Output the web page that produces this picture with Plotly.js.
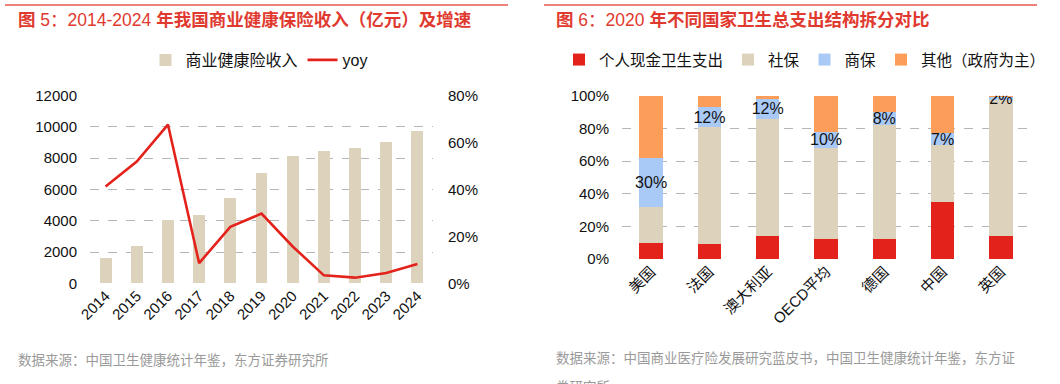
<!DOCTYPE html>
<html>
<head>
<meta charset="utf-8">
<script src="https://cdn.plot.ly/plotly-3.0.1.min.js"></script>
<style>html,body{margin:0;padding:0;background:#fff;}#chart{width:1060px;height:384px;}</style>
</head>
<body>
<div id="chart"></div>
<script>
// ---- Data: Figure 5 ----
const years = ['2014','2015','2016','2017','2018','2019','2020','2021','2022','2023','2024'];
const healthIncome = [1587, 2410, 4042, 4389, 5448, 7066, 8173, 8447, 8653, 9035, 9773];
const yoy = [41.3, 51.9, 67.7, 8.6, 24.1, 29.7, 15.7, 3.4, 2.4, 4.4, 8.2];

// ---- Data: Figure 6 ----
const countries = ['美国','法国','澳大利亚','OECD平均','德国','中国','英国'];
const outOfPocket = [10, 9, 14, 12, 12, 35, 14];
const socialIns = [22, 72, 72, 56, 70, 35, 83.5];
const commercialIns = [30, 12, 12, 10, 8, 7, 2];
const otherGov = [38, 7, 2, 22, 10, 23, 0.5];

const W = 1060, H = 384;
const px = x => x / W;
const py = y => 1 - y / H;
const FONT = 'Liberation Sans, Arial, "Noto Sans CJK SC", sans-serif';
const RED = '#e03a30';

const labelY = countries.map((c, i) => outOfPocket[i] + socialIns[i] + commercialIns[i] / 2 - 1);
const labelText = commercialIns.map(v => v + '%');

const traces = [
  {type: 'bar', x: years, y: healthIncome, name: '商业健康险收入', marker: {color: '#ddd3bd'},
   width: 0.38, xaxis: 'x', yaxis: 'y', legend: 'legend', hoverinfo: 'none'},
  {type: 'scatter', mode: 'lines', x: years, y: yoy, name: 'yoy', line: {color: '#e3231b', width: 2.6},
   xaxis: 'x', yaxis: 'y2', legend: 'legend', hoverinfo: 'none'},
  {type: 'bar', x: countries, y: outOfPocket, name: '个人现金卫生支出', marker: {color: '#e3231b'},
   width: 0.4, xaxis: 'x2', yaxis: 'y3', legend: 'legend2', hoverinfo: 'none'},
  {type: 'bar', x: countries, y: socialIns, name: '社保', marker: {color: '#ddd3bd'},
   width: 0.4, xaxis: 'x2', yaxis: 'y3', legend: 'legend2', hoverinfo: 'none'},
  {type: 'bar', x: countries, y: commercialIns, name: '商保', marker: {color: '#a9c9f7'},
   width: 0.4, xaxis: 'x2', yaxis: 'y3', legend: 'legend2', hoverinfo: 'none'},
  {type: 'bar', x: countries, y: otherGov, name: '其他（政府为主）', marker: {color: '#fc9e5a'},
   width: 0.4, xaxis: 'x2', yaxis: 'y3', legend: 'legend2', hoverinfo: 'none'},
  {type: 'scatter', mode: 'text', x: countries, y: labelY, text: labelText,
   textfont: {family: FONT, size: 16, color: '#111'}, textposition: 'middle center',
   xaxis: 'x2', yaxis: 'y3', showlegend: false, hoverinfo: 'none'}
];

const gridStyle = {showgrid: true, gridcolor: '#b5b5b5', griddash: 'dash', gridwidth: 1, zeroline: false, showline: false, ticks: ''};

const layout = {
  width: W, height: H,
  margin: {l: 0, r: 0, t: 0, b: 0},
  paper_bgcolor: '#fff', plot_bgcolor: '#fff',
  font: {family: FONT, size: 15, color: '#111'},
  barmode: 'stack',
  showlegend: true,
  xaxis: {domain: [px(90), px(433)], anchor: 'y', type: 'category', showgrid: false, zeroline: false,
          showline: false, ticks: '', tickangle: -45, tickfont: {size: 15}},
  yaxis: Object.assign({domain: [py(283.3), py(95.7)], anchor: 'x', range: [0, 12000], dtick: 2000,
          tickformat: 'd', tickfont: {size: 15}, ticklabelstandoff: 12}, gridStyle),
  yaxis2: {overlaying: 'y', side: 'right', anchor: 'x', range: [0, 80], dtick: 20, ticksuffix: '%',
           showgrid: false, zeroline: false, showline: false, ticks: '', tickfont: {size: 15}, ticklabelstandoff: 14},
  xaxis2: {domain: [px(622), px(1030)], anchor: 'y3', type: 'category', showgrid: false, zeroline: false,
           showline: false, ticks: '', tickangle: -45, tickfont: {size: 15}},
  yaxis3: Object.assign({domain: [py(259), py(95.7)], anchor: 'x2', range: [0, 100], dtick: 20, ticksuffix: '%',
           tickfont: {size: 15}, ticklabelstandoff: 12}, gridStyle),
  legend: {orientation: 'h', x: px(259), xanchor: 'center', y: py(60), yanchor: 'middle',
           font: {size: 16}, traceorder: 'normal', bgcolor: 'rgba(0,0,0,0)'},
  legend2: {orientation: 'h', x: px(805), xanchor: 'center', y: py(60), yanchor: 'middle',
           font: {size: 15.5}, traceorder: 'normal', bgcolor: 'rgba(0,0,0,0)', itemwidth: 30},
  shapes: [
    {type: 'line', xref: 'paper', yref: 'paper', x0: px(5), x1: px(508), y0: py(5), y1: py(5), line: {color: '#e8574d', width: 1.5}},
    {type: 'line', xref: 'paper', yref: 'paper', x0: px(544), x1: px(1037), y0: py(5), y1: py(5), line: {color: '#e8574d', width: 1.5}}
  ],
  annotations: [
    {xref: 'paper', yref: 'paper', x: px(16), y: py(20), xanchor: 'left', yanchor: 'middle', showarrow: false,
     text: '<b>图</b> 5：2014-2024 <b>年我国商业健康保险收入（亿元）及增速</b>', font: {size: 17.5, color: RED}},
    {xref: 'paper', yref: 'paper', x: px(554), y: py(20), xanchor: 'left', yanchor: 'middle', showarrow: false,
     text: '<b>图</b> 6：2020 <b>年不同国家卫生总支出结构拆分对比</b>', font: {size: 17.5, color: RED}},
    {xref: 'paper', yref: 'paper', x: px(16), y: py(360), xanchor: 'left', yanchor: 'middle', showarrow: false,
     text: '数据来源：中国卫生健康统计年鉴，东方证券研究所', font: {size: 13.5, color: '#9a9a9a'}},
    {xref: 'paper', yref: 'paper', x: px(554), y: py(358), xanchor: 'left', yanchor: 'middle', showarrow: false,
     text: '数据来源：中国商业医疗险发展研究蓝皮书，中国卫生健康统计年鉴，东方证', font: {size: 13.5, color: '#9a9a9a'}},
    {xref: 'paper', yref: 'paper', x: px(554), y: py(387), xanchor: 'left', yanchor: 'middle', showarrow: false,
     text: '券研究所', font: {size: 13.5, color: '#9a9a9a'}}
  ]
};

Plotly.newPlot('chart', traces, layout, {staticPlot: true, displayModeBar: false});
</script>
</body>
</html>
